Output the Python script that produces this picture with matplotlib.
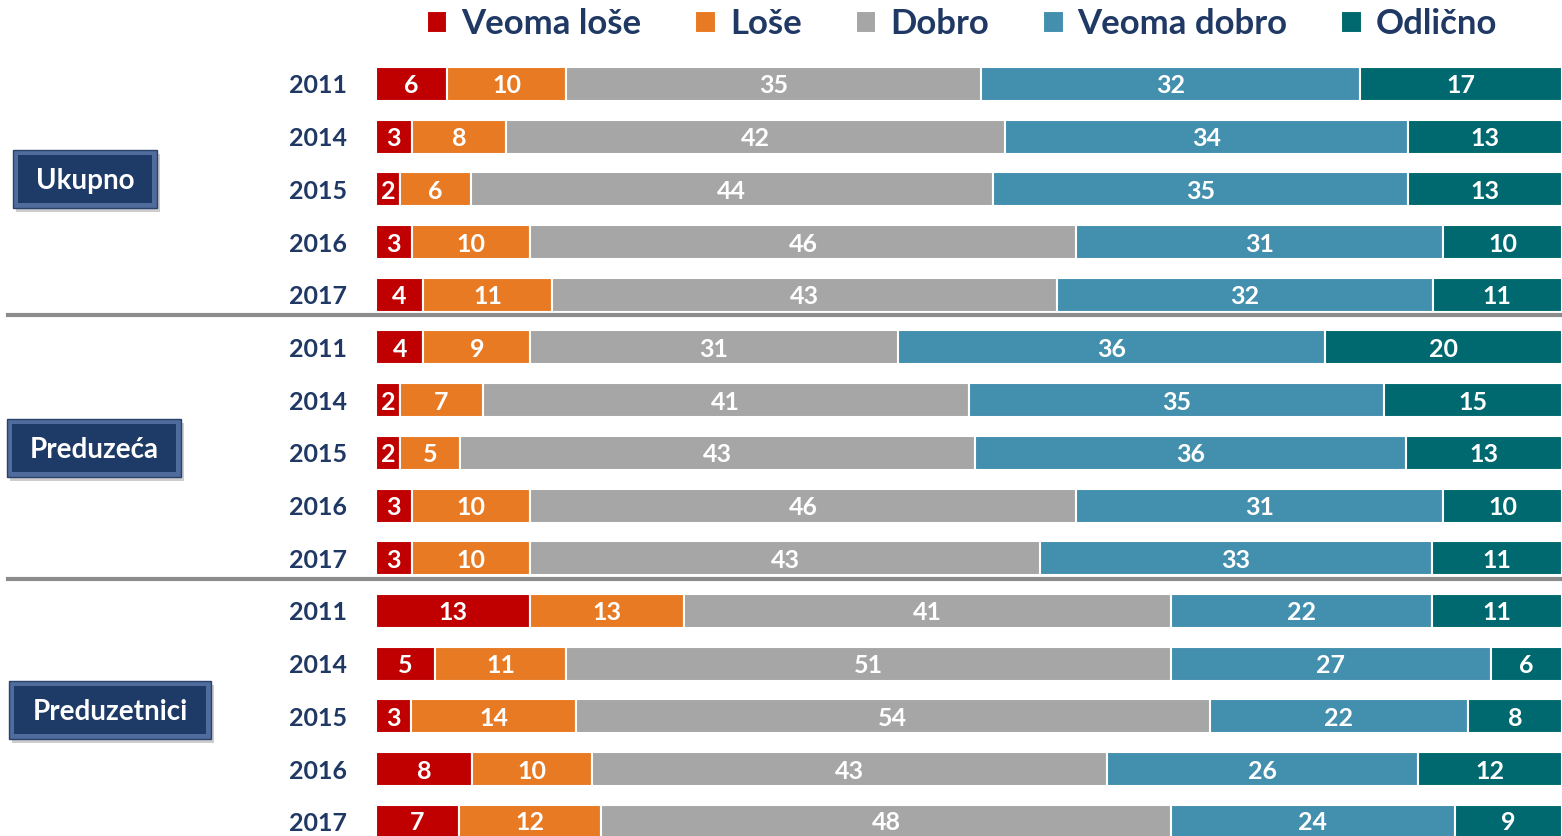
import matplotlib
matplotlib.use("Agg")
import matplotlib.pyplot as plt
from matplotlib.patches import Rectangle
from matplotlib.lines import Line2D
import numpy as np

plt.rcParams['font.family'] = ['Lato', 'DejaVu Sans']

series = ["Veoma loše", "Loše", "Dobro", "Veoma dobro", "Odlično"]
colors = ["#C00000", "#E87A24", "#A6A6A6", "#438FAE", "#00696F"]
years = ["2011", "2014", "2015", "2016", "2017"] * 3
groups = ["Ukupno", "Preduzeća", "Preduzetnici"]

veoma_lose = [6, 3, 2, 3, 4, 4, 2, 2, 3, 3, 13, 5, 3, 8, 7]
lose = [10, 8, 6, 10, 11, 9, 7, 5, 10, 10, 13, 11, 14, 10, 12]
dobro = [35, 42, 44, 46, 43, 31, 41, 43, 46, 43, 41, 51, 54, 43, 48]
veoma_dobro = [32, 34, 35, 31, 32, 36, 35, 36, 31, 33, 22, 27, 22, 26, 24]
odlicno = [17, 13, 13, 10, 11, 20, 15, 13, 10, 11, 11, 6, 8, 12, 9]

data = [veoma_lose, lose, dobro, veoma_dobro, odlicno]

W, H = 1562, 836
fig = plt.figure(figsize=(W / 100, H / 100), dpi=100)
ax = fig.add_axes([376 / W, 0, 1 - 376 / W, 1 - 57.6 / H])

navy = "#1F3864"
arr = np.array(data, dtype=float)
shares = arr / arr.sum(axis=0) * 100.0  # 100% stacked
y = np.arange(len(years))
left = np.zeros(len(years))
handles = []
for vals, share, col, name in zip(data, shares, colors, series):
    bars = ax.barh(y, share, left=left, height=0.645, color=col,
                   edgecolor="white", linewidth=1.5, label=name)
    texts = ax.bar_label(bars, labels=[str(int(v)) for v in vals],
                         label_type="center", color="white", fontsize=18,
                         fontweight="bold")
    for t in texts:
        t.set_va("center_baseline")
    left += share
    handles.append(bars)

ax.set_xlim(0, 100)
ax.set_ylim(14.27, -0.5)
ax.set_yticks(y)
ax.set_yticklabels(years, fontsize=18, fontweight="bold", color=navy)
ax.tick_params(axis="y", length=0, pad=21)
ax.set_xticks([])
for s in ax.spines.values():
    s.set_visible(False)

# legend
leg = fig.legend(handles=handles, labels=series, loc="center",
                 bbox_to_anchor=(962 / W, 1 - 24 / H), ncol=5, frameon=False,
                 fontsize=25, handlelength=0.6, handleheight=0.6,
                 handletextpad=0.4, columnspacing=1.55)
for t in leg.get_texts():
    t.set_color(navy)
    t.set_fontweight("bold")

# separators
for py in [315, 579]:
    fig.add_artist(Line2D([8 / W, 1], [1 - py / H, 1 - py / H],
                          color="#8C8C8C", lw=3))

# group boxes
boxes = [(85, 179, 144, 58), (94, 448, 174, 58), (110, 710, 202, 58)]
for name, (cx, cy, bw, bh) in zip(groups, boxes):
    x0 = (cx - bw / 2) / W
    y0 = 1 - (cy + bh / 2) / H
    fig.add_artist(Rectangle((x0 + 3 / W, y0 - 4 / H), bw / W, bh / H,
                             transform=fig.transFigure, facecolor="#B8B8B8",
                             edgecolor="none", alpha=0.7))
    fig.add_artist(Rectangle((x0, y0), bw / W, bh / H,
                             transform=fig.transFigure, facecolor="#4F6C9C",
                             edgecolor="#2A416B", lw=1))
    inset = 5
    fig.add_artist(Rectangle((x0 + inset / W, y0 + inset / H),
                             (bw - 2 * inset) / W, (bh - 2 * inset) / H,
                             transform=fig.transFigure, facecolor="#1E3A66",
                             edgecolor="none"))
    fig.text(cx / W, 1 - cy / H, name, color="white", fontsize=20,
             fontweight="bold", ha="center", va="center_baseline")

fig.savefig("out.png", dpi=100)
